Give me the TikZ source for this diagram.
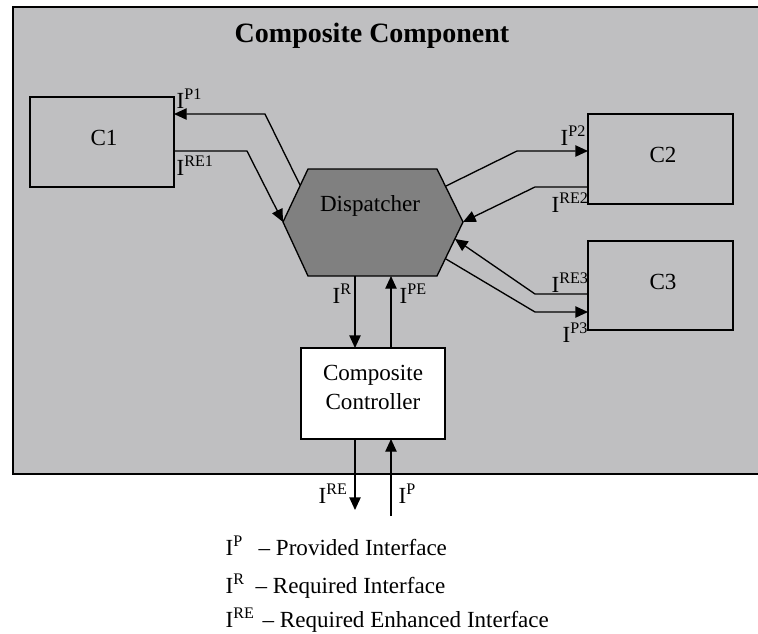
\documentclass[tikz,border=0pt]{standalone}
\usepackage{fontspec}
\setmainfont{Liberation Serif}
\usetikzlibrary{arrows.meta,fit}
\newcommand\Ix[1]{I\textsuperscript{#1}}
\definecolor{bggray}{RGB}{191,191,193}
\definecolor{dispgray}{RGB}{128,128,128}
\begin{document}
\begin{tikzpicture}[x=0.75pt,y=-0.75pt,line width=1pt,
  >={Triangle[length=9.5pt,width=8.5pt]},
  every node/.style={font=\fontsize{17.3}{21}\selectfont},
  lbl/.style={inner sep=0pt,anchor=base west},
  box/.style={draw,line width=1pt,inner sep=0pt},
  conn/.style={->,line width=1pt}]
\useasboundingbox (0,0) rectangle (758,633);
% outer composite component
\node[box,fill=bggray,fit={(13,7) (762,474)}] (cc) {};
\node[inner sep=0pt,anchor=base,font=\fontsize{21}{24}\selectfont\bfseries] (title) at (372,42) {Composite Component};
% components
\node[box,fit={(30,97) (174,187)}] (c1) {};
\node[inner sep=0pt] (c1t) at (104,138) {C1};
\node[box,fit={(588,114) (733,204)}] (c2) {};
\node[inner sep=0pt] (c2t) at (663,155) {C2};
\node[box,fit={(588,241) (733,330)}] (c3) {};
\node[inner sep=0pt] (c3t) at (663,282) {C3};
% dispatcher hexagon
\coordinate (hl) at (283,222);
\coordinate (htl) at (308,169);
\coordinate (htr) at (437,169);
\coordinate (hr) at (463,222);
\coordinate (hbr) at (437,276);
\coordinate (hbl) at (308,276);
\draw[fill=dispgray] (hl) -- (htl) -- (htr) -- (hr) -- (hbr) -- (hbl) -- cycle;
\node[inner sep=0pt,anchor=base] (disp) at (370,211) {Dispatcher};
% controller
\node[box,fill=white,fit={(301,348) (445,439)}] (ctrl) {};
\node[inner sep=0pt,anchor=base] (ctrlt1) at (373,380) {Composite};
\node[inner sep=0pt,anchor=base] (ctrlt2) at (373,409) {Controller};
% ports
\coordinate (dp1) at (300,185);
\coordinate (c1p) at (174,114);
\coordinate (c1re) at (174,151);
\coordinate (dp2) at (446,186);
\coordinate (c2p) at (588,151);
\coordinate (c2re) at (588,187);
\coordinate (dre3) at (455,239);
\coordinate (c3re) at (588,294);
\coordinate (dp3) at (446,259);
\coordinate (c3p) at (588,312);
\coordinate (dr) at (355,276);
\coordinate (ctr) at (355,348);
\coordinate (dpe) at (391,276);
\coordinate (ctpe) at (391,348);
\coordinate (cbre) at (355,439);
\coordinate (outre) at (355,510);
\coordinate (cbp) at (391,439);
\coordinate (inp) at (391,516);
% connectors
\draw[conn] (dp1) -- (265,114) -- (c1p);
\draw[conn] (c1re) -- (247,151) -- (hl);
\draw[conn] (dp2) -- (517,151) -- (c2p);
\draw[conn] (c2re) -- (535,187) -- (hr);
\draw[conn] (c3re) -- (535,294) -- (dre3);
\draw[conn] (dp3) -- (535,312) -- (c3p);
\draw[conn] (dr) -- (ctr);
\draw[conn] (ctpe) -- (dpe);
\draw[conn] (cbre) -- (outre);
\draw[conn] (inp) -- (cbp);
% labels
\node[lbl] (lp1) at (176,108) {\Ix{P1}};
\node[lbl] (lre1) at (176,175) {\Ix{RE1}};
\node[lbl] (lp2) at (560,145) {\Ix{P2}};
\node[lbl] (lre2) at (551,212) {\Ix{RE2}};
\node[lbl] (lre3) at (551,292) {\Ix{RE3}};
\node[lbl] (lp3) at (562,342) {\Ix{P3}};
\node[lbl] (lr) at (332,303) {\Ix{R}};
\node[lbl] (lpe) at (399,303) {\Ix{PE}};
\node[lbl] (lre) at (318,503) {\Ix{RE}};
\node[lbl] (lp) at (398,503) {\Ix{P}};
% legend
\node[lbl] (l1i) at (225,555) {\Ix{P}};
\node[lbl] (l1t) at (258,555) {– Provided Interface};
\node[lbl] (l2i) at (225,593) {\Ix{R}};
\node[lbl] (l2t) at (255,593) {– Required Interface};
\node[lbl] (l3i) at (225,627) {\Ix{RE}};
\node[lbl] (l3t) at (262,627) {– Required Enhanced Interface};
\end{tikzpicture}
\end{document}
